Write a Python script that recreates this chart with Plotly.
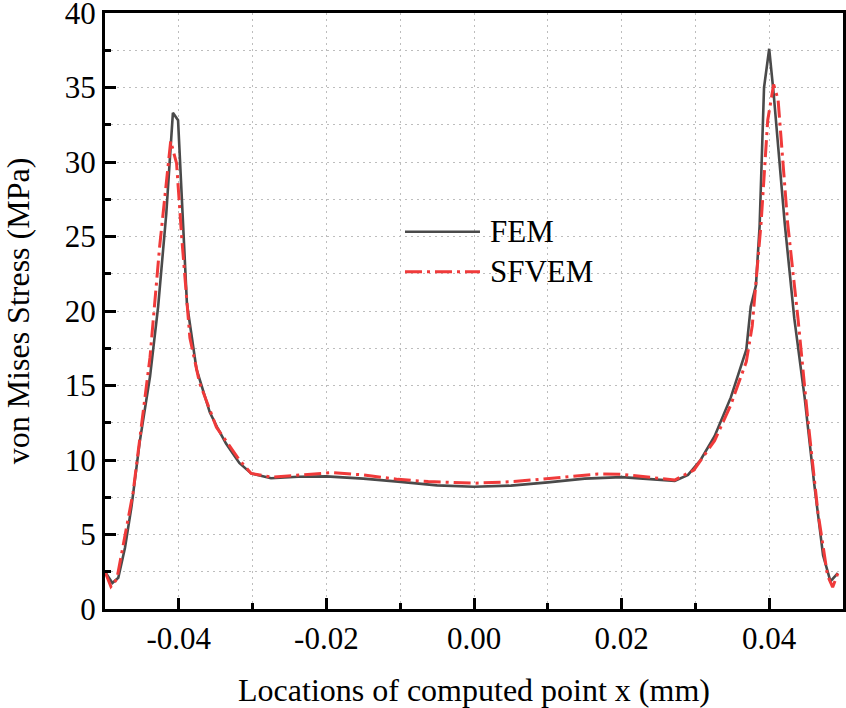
import plotly.graph_objects as go

# ---- data ----
fem_x = [-0.0500, -0.0490, -0.0482, -0.0473, -0.0464, -0.0453, -0.0439, -0.0428, -0.0417,
         -0.0408, -0.0401, -0.0396, -0.0389, -0.0376, -0.0358, -0.0347, -0.0336, -0.0318,
         -0.0302, -0.0275, -0.0238, -0.0200, -0.0150, -0.0103, -0.0050, 0.0000, 0.0050,
         0.0100, 0.0150, 0.0200, 0.0236, 0.0272, 0.0290, 0.0307, 0.0326, 0.0348, 0.0369,
         0.0375, 0.0382, 0.0387, 0.0393, 0.0400, 0.0406, 0.0421, 0.0434, 0.0448, 0.0461,
         0.0473, 0.0483, 0.0493]
fem_y = [2.5, 1.75, 2.1, 4.1, 6.9, 11.2, 15.6, 20.3, 26.5,
         33.3, 32.8, 27.5, 20.5, 16.1, 13.2, 12.1, 11.1, 9.8,
         9.1, 8.78, 8.88, 8.9, 8.75, 8.55, 8.3, 8.2, 8.28,
         8.5, 8.75, 8.85, 8.73, 8.6, 9.0, 10.0, 11.6, 14.2, 17.4,
         20.3, 21.7, 25.7, 35.0, 37.6, 34.6, 25.9, 19.5, 14.2, 8.4,
         3.6, 1.86, 2.4]

sfvem_x = [-0.0500, -0.0492, -0.0484, -0.0462, -0.0439, -0.0426, -0.0411, -0.0403, -0.0396,
           -0.0385, -0.0372, -0.0349, -0.0318, -0.0302, -0.0275, -0.0238, -0.0193, -0.0150,
           -0.0103, -0.0062, -0.0030, 0.0000, 0.0054, 0.0100, 0.0168, 0.0200, 0.0236,
           0.0272, 0.0298, 0.0326, 0.0348, 0.0369, 0.0377, 0.0389, 0.0398, 0.0406,
           0.0412, 0.0425, 0.0439, 0.0452, 0.0466, 0.0479, 0.0486, 0.0493]
sfvem_y = [2.5, 1.5, 2.0, 7.8, 16.9, 24.3, 31.4, 29.9, 24.9,
           18.2, 15.2, 12.2, 10.0, 9.1, 8.85, 9.0, 9.15, 9.0,
           8.7, 8.55, 8.48, 8.44, 8.55, 8.77, 9.06, 9.04, 8.84,
           8.66, 9.33, 11.3, 13.7, 16.6, 19.0, 25.9, 32.8, 35.2,
           34.2, 25.9, 19.5, 12.9, 6.5, 2.26, 1.46, 2.4]

x_tickvals = [-0.04, -0.02, 0.0, 0.02, 0.04]
x_ticktext = ["-0.04", "-0.02", "0.00", "0.02", "0.04"]
y_tickvals = [0, 5, 10, 15, 20, 25, 30, 35, 40]
series_names = ["FEM", "SFVEM"]

FONT = "Liberation Serif, Times New Roman, serif"
FEM_COLOR = "#4a4a4a"
SF_COLOR = "#f03a3a"
SF_DASH = "17px,5px,3px,5px"

fig = go.Figure()
fig.add_trace(go.Scatter(x=fem_x, y=fem_y, mode="lines", name=series_names[0],
                         line=dict(color=FEM_COLOR, width=2.6)))
fig.add_trace(go.Scatter(x=sfvem_x, y=sfvem_y, mode="lines", name=series_names[1],
                         line=dict(color=SF_COLOR, width=3, dash=SF_DASH)))

grid = dict(showgrid=True, gridcolor="#bdbdbd", gridwidth=1, griddash="2px,4px")

fig.update_layout(
    width=846, height=708,
    margin=dict(l=105, r=3, t=13, b=99, autoexpand=False),
    paper_bgcolor="white", plot_bgcolor="white",
    font=dict(family=FONT, color="black", size=31),
    showlegend=False,
    xaxis=dict(
        range=[-0.05, 0.05], tickvals=x_tickvals, ticktext=x_ticktext,
        ticks="inside", ticklen=11, tickwidth=3, tickcolor="black",
        showline=True, linecolor="black", linewidth=3, mirror=True,
        zeroline=False, tickfont=dict(size=31), automargin=False,
        ticklabeloverflow="allow",
        minor=dict(dtick=0.01, ticks="inside", ticklen=6, tickwidth=3, tickcolor="black",
                   **grid),
        title=dict(text="Locations of computed point x (mm)", font=dict(size=32), standoff=28),
        **grid,
    ),
    yaxis=dict(
        range=[0, 40], tickvals=y_tickvals,
        ticks="inside", ticklen=11, tickwidth=3, tickcolor="black",
        showline=True, linecolor="black", linewidth=3, mirror=True,
        zeroline=False, tickfont=dict(size=31), automargin=False,
        ticklabeloverflow="allow",
        minor=dict(dtick=2.5, ticks="inside", ticklen=6, tickwidth=3, tickcolor="black",
                   **grid),
        title=dict(text="von Mises Stress (MPa)", font=dict(size=32), standoff=32),
        **grid,
    ),
)

# manual legend (long line samples as in the reference)
leg_rows = [(0.633, FEM_COLOR, 2.6, "solid"), (0.566, SF_COLOR, 3, SF_DASH)]
for name, (yy, col, w, dash) in zip(series_names, leg_rows):
    fig.add_shape(type="line", xref="paper", yref="paper", x0=0.4065, x1=0.5081, y0=yy, y1=yy,
                  line=dict(color=col, width=w, dash=dash))
    fig.add_annotation(xref="paper", yref="paper", x=0.519, y=yy, text=name, showarrow=False,
                       xanchor="left", yanchor="middle", font=dict(size=31, family=FONT))

fig.write_html("out.html", config={"displayModeBar": False},
               post_script="document.body.style.margin='0';")
